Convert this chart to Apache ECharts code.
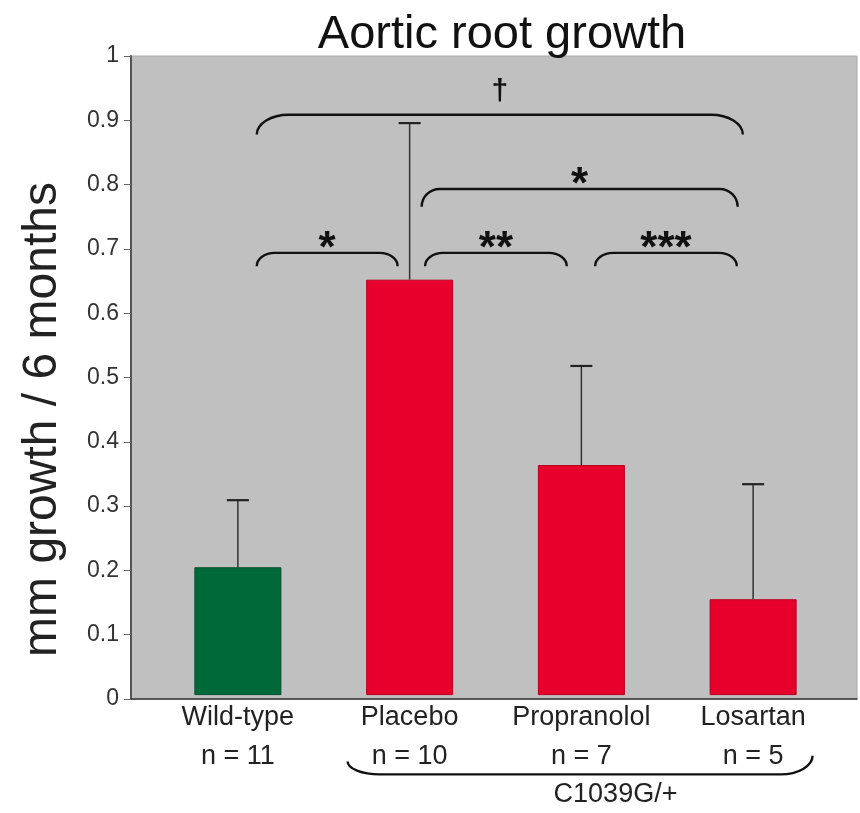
<!DOCTYPE html>
<html>
<head>
<meta charset="utf-8">
<script src="https://cdn.jsdelivr.net/npm/echarts@6/dist/echarts.min.js"></script>
<style>html,body{margin:0;padding:0;background:#fff}#chart{width:860px;height:813px}</style>
</head>
<body>
<div id="chart"></div>
<script>
// ---- data ----
const categories = ['Wild-type', 'Placebo', 'Propranolol', 'Losartan'];
const sampleSizes = ['n = 11', 'n = 10', 'n = 7', 'n = 5'];
const growthMeans = [0.20, 0.65, 0.36, 0.15];
const errorUpper = [0.305, 0.895, 0.515, 0.33];
const yMin = 0, yMax = 1, yStep = 0.1;

// significance brackets (category positions, value levels)
const bracketFrom  = [0.11, 1.07, 0.11, 1.09, 2.08];
const bracketTo    = [2.94, 2.91, 0.93, 1.915, 2.905];
const bracketLevel = [0.908, 0.792, 0.692, 0.692, 0.692];
const bracketEnd   = [0.877, 0.764, 0.671, 0.671, 0.671];
const bracketMark  = ['\u2020', '*', '*', '**', '***'];

// genotype group brace below the axis
const groupFrom = 0.639, groupTo = 3.346;
const groupLevel = -0.124, groupEndLeft = -0.104, groupEndRight = -0.095;
const groupLabel = 'C1039G/+';

const titleText = 'Aortic root growth';
const yName = 'mm growth / 6 months';

// ---- build ----
const FONT = '"Liberation Sans", Arial, Helvetica, sans-serif';
const barColors = ['#00693a', '#e6002b', '#e6002b', '#e6002b'];
const barBorders = ['#004d2a', '#b8001f', '#b8001f', '#b8001f'];

const barData = growthMeans.map((v, i) => ({
  value: v,
  itemStyle: { color: barColors[i], borderColor: barBorders[i], borderWidth: 1 }
}));
const errorData = growthMeans.map((v, i) => [i, v, errorUpper[i]]);
const bracketData = bracketFrom.map((f, i) => [f, bracketTo[i], bracketLevel[i], bracketEnd[i], bracketEnd[i]]);
bracketData.push([groupFrom, groupTo, groupLevel, groupEndLeft, groupEndRight]);

function catX(api, pos, val) {
  const p0 = api.coord([0, val]);
  const p1 = api.coord([1, val]);
  return p0[0] + pos * (p1[0] - p0[0]);
}

function bracketItem(params, api) {
  const from = api.value(0), to = api.value(1), lvl = api.value(2);
  const eL = api.value(3), eR = api.value(4);
  const x1 = catX(api, from, lvl), x2 = catX(api, to, lvl);
  const y = api.coord([0, lvl])[1];
  const yL = api.coord([0, eL])[1];
  const yR = api.coord([0, eR])[1];
  const span = x2 - x1;
  const rx = span > 400 ? 32 : 18;
  const k = 0.552;
  const d = 'M' + x1 + ' ' + yL +
    ' C' + x1 + ' ' + (yL + (y - yL) * k) + ' ' + (x1 + rx * (1 - k)) + ' ' + y + ' ' + (x1 + rx) + ' ' + y +
    ' L' + (x2 - rx) + ' ' + y +
    ' C' + (x2 - rx * (1 - k)) + ' ' + y + ' ' + x2 + ' ' + (yR + (y - yR) * k) + ' ' + x2 + ' ' + yR;
  const children = [{
    type: 'path',
    shape: { pathData: d },
    style: { fill: null, stroke: '#111', lineWidth: 2.4 }
  }];
  const mark = bracketMark[params.dataIndex];
  if (mark) {
    const isDagger = mark === '\u2020';
    children.push({
      type: 'text',
      style: {
        text: mark,
        x: (x1 + x2) / 2,
        y: isDagger ? y - 23 : y - 3,
        align: 'center',
        verticalAlign: 'middle',
        fontSize: isDagger ? 30 : 44,
        fontWeight: 'bold',
        fontFamily: FONT,
        fill: '#111'
      }
    });
  }
  return { type: 'group', children: children };
}

function errorItem(params, api) {
  const idx = api.value(0);
  const base = api.coord([idx, api.value(1)]);
  const top = api.coord([idx, api.value(2)]);
  const cap = 11;
  return {
    type: 'group',
    children: [
      { type: 'line', shape: { x1: base[0], y1: base[1], x2: top[0], y2: top[1] },
        style: { stroke: '#333', lineWidth: 1.5 } },
      { type: 'line', shape: { x1: top[0] - cap, y1: top[1], x2: top[0] + cap, y2: top[1] },
        style: { stroke: '#222', lineWidth: 2.2 } }
    ]
  };
}

const chart = echarts.init(document.getElementById('chart'), null, { renderer: 'canvas' });
chart.setOption({
  animation: false,
  backgroundColor: '#ffffff',
  textStyle: { fontFamily: FONT },
  title: {
    text: titleText,
    left: 497,
    textAlign: 'center',
    top: 3,
    textStyle: { fontSize: 47, fontWeight: 'normal', color: '#111', fontFamily: FONT, lineHeight: 54 }
  },
  grid: [
    { left: 131, right: 3, top: 56, bottom: 114, show: true, backgroundColor: '#c0c0c0', borderColor: '#a9a9a9', borderWidth: 1 },
    { left: 152, right: 21, top: 56, bottom: 114 }
  ],
  xAxis: [
    { gridIndex: 0, type: 'category', data: [''], axisLine: { show: true, lineStyle: { color: '#333', width: 1.5 } },
      axisTick: { show: false }, axisLabel: { show: false } },
    { gridIndex: 1, type: 'category', data: categories,
      axisLine: { show: false }, axisTick: { show: false },
      axisLabel: {
        interval: 0, hideOverlap: false,
        fontSize: 27, lineHeight: 39, color: '#222', margin: 3, fontFamily: FONT,
        formatter: (v, i) => v + '\n' + sampleSizes[i]
      },
      name: groupLabel, nameLocation: 'middle', nameGap: 82,
      nameTextStyle: { fontSize: 27, color: '#222', fontFamily: FONT, padding: [0, 0, 0, 240] }
    }
  ],
  yAxis: [
    { gridIndex: 0, type: 'value', min: yMin, max: yMax, interval: yStep,
      axisLine: { show: true, lineStyle: { color: '#555', width: 2 } },
      axisTick: { show: true, length: 7, lineStyle: { color: '#666', width: 1 } },
      axisLabel: { fontSize: 23, color: '#333', margin: 12, fontFamily: FONT },
      splitLine: { show: false },
      name: yName, nameLocation: 'middle', nameGap: 64,
      nameTextStyle: { fontSize: 48, color: '#222', fontFamily: FONT, padding: [0, 84, 0, 0] }
    },
    { gridIndex: 1, type: 'value', min: yMin, max: yMax, show: false }
  ],
  series: [
    { type: 'bar', xAxisIndex: 1, yAxisIndex: 1, data: barData, barWidth: 87, z: 2 },
    { type: 'custom', xAxisIndex: 1, yAxisIndex: 1, data: errorData, renderItem: errorItem,
      encode: { x: 0, y: [1, 2] }, z: 3 },
    { type: 'custom', xAxisIndex: 1, yAxisIndex: 1, data: bracketData, renderItem: bracketItem,
      encode: { x: [0, 1], y: [2, 3, 4] }, clip: false, z: 4 }
  ]
});
</script>
</body>
</html>
